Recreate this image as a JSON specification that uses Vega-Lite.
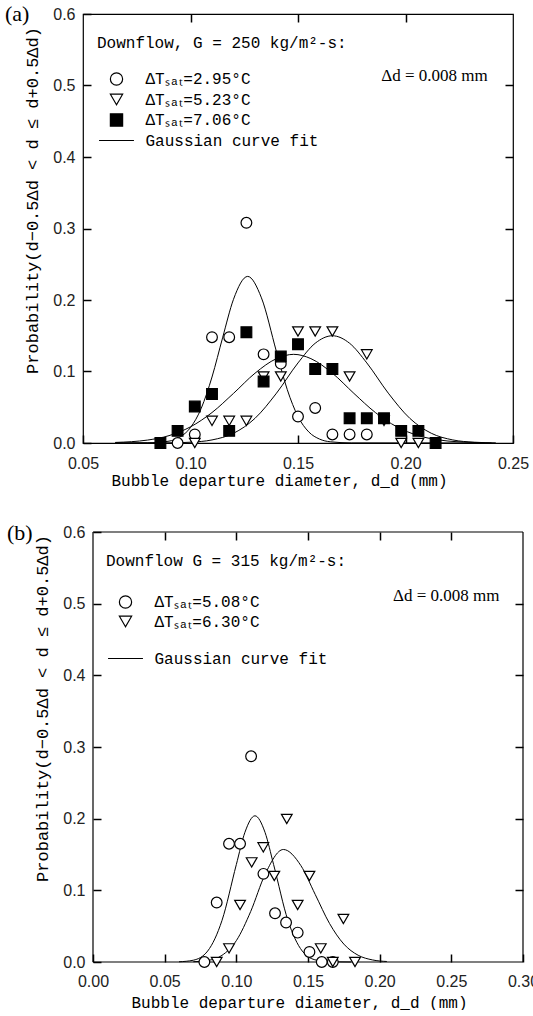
{
  "$schema": "https://vega.github.io/schema/vega-lite/v6.json",
  "background": "white",
  "padding": {"left": 4, "top": 2, "right": 0, "bottom": 0},
  "spacing": 25,
  "config": {
    "view": {"stroke": "black", "strokeWidth": 1.2},
    "axis": {
      "domain": false,
      "grid": false,
      "ticks": true,
      "tickColor": "black",
      "tickSize": 8,
      "tickWidth": 1.5,
      "offset": -8,
      "labelFont": "Liberation Sans",
      "labelFontSize": 16,
      "labelColor": "#222222",
      "labelPadding": 8,
      "labelFlush": false,
      "labelOverlap": false,
      "titleFont": "Liberation Mono",
      "titleFontSize": 16,
      "titleFontWeight": "normal",
      "titleColor": "black"
    },
    "legend": {
      "orient": "none",
      "titleFont": "Liberation Mono",
      "titleFontSize": 16,
      "titleFontWeight": "normal",
      "titleColor": "black",
      "titleLimit": 400,
      "labelFont": "Liberation Mono",
      "labelFontSize": 16,
      "labelColor": "black",
      "labelLimit": 300,
      "symbolSize": 150,
      "symbolStrokeWidth": 1.2,
      "labelOffset": 21,
      "symbolOffset": 11.5,
      "padding": 0
    },
    "title": {"font": "Liberation Serif", "fontSize": 22, "fontWeight": "normal", "color": "black", "anchor": "start", "frame": "group"}
  },
  "resolve": {"scale": {"x": "independent", "y": "independent", "shape": "independent", "fill": "independent", "stroke": "independent"}, "legend": {"shape": "independent", "fill": "independent", "stroke": "independent"}},
  "vconcat": [
    {
      "title": {"text": "(a)", "dx": -78, "offset": -20},
      "width": 430,
      "height": 429,
      "layer": [
        {
          "data": {"values": [
            {"d": 0.065, "p": 0, "c": "a1"}, {"d": 0.080, "p": 0.0002, "c": "a1"}, {"d": 0.090, "p": 0.0026, "c": "a1"}, {"d": 0.095, "p": 0.0081, "c": "a1"}, {"d": 0.100, "p": 0.0216, "c": "a1"}, {"d": 0.105, "p": 0.0486, "c": "a1"}, {"d": 0.110, "p": 0.0923, "c": "a1"}, {"d": 0.115, "p": 0.148, "c": "a1"}, {"d": 0.120, "p": 0.201, "c": "a1"}, {"d": 0.1266, "p": 0.233, "c": "a1"}, {"d": 0.133, "p": 0.203, "c": "a1"}, {"d": 0.140, "p": 0.1275, "c": "a1"}, {"d": 0.145, "p": 0.0747, "c": "a1"}, {"d": 0.150, "p": 0.037, "c": "a1"}, {"d": 0.155, "p": 0.0155, "c": "a1"}, {"d": 0.160, "p": 0.0055, "c": "a1"}, {"d": 0.165, "p": 0.0017, "c": "a1"}, {"d": 0.175, "p": 0.0001, "c": "a1"}, {"d": 0.235, "p": 0, "c": "a1"},
            {"d": 0.065, "p": 0, "c": "a2"}, {"d": 0.090, "p": 0.0002, "c": "a2"}, {"d": 0.100, "p": 0.0011, "c": "a2"}, {"d": 0.110, "p": 0.0043, "c": "a2"}, {"d": 0.120, "p": 0.0136, "c": "a2"}, {"d": 0.130, "p": 0.0345, "c": "a2"}, {"d": 0.140, "p": 0.0697, "c": "a2"}, {"d": 0.150, "p": 0.112, "c": "a2"}, {"d": 0.158, "p": 0.1395, "c": "a2"}, {"d": 0.166, "p": 0.150, "c": "a2"}, {"d": 0.174, "p": 0.1395, "c": "a2"}, {"d": 0.182, "p": 0.112, "c": "a2"}, {"d": 0.192, "p": 0.0697, "c": "a2"}, {"d": 0.202, "p": 0.0345, "c": "a2"}, {"d": 0.212, "p": 0.0136, "c": "a2"}, {"d": 0.222, "p": 0.0043, "c": "a2"}, {"d": 0.232, "p": 0.0011, "c": "a2"}, {"d": 0.242, "p": 0.0002, "c": "a2"},
            {"d": 0.065, "p": 0.0008, "c": "a3"}, {"d": 0.080, "p": 0.0041, "c": "a3"}, {"d": 0.090, "p": 0.0103, "c": "a3"}, {"d": 0.100, "p": 0.0226, "c": "a3"}, {"d": 0.110, "p": 0.0426, "c": "a3"}, {"d": 0.120, "p": 0.0694, "c": "a3"}, {"d": 0.130, "p": 0.0976, "c": "a3"}, {"d": 0.140, "p": 0.118, "c": "a3"}, {"d": 0.148, "p": 0.124, "c": "a3"}, {"d": 0.156, "p": 0.118, "c": "a3"}, {"d": 0.166, "p": 0.0976, "c": "a3"}, {"d": 0.176, "p": 0.0694, "c": "a3"}, {"d": 0.186, "p": 0.0426, "c": "a3"}, {"d": 0.196, "p": 0.0226, "c": "a3"}, {"d": 0.206, "p": 0.0103, "c": "a3"}, {"d": 0.216, "p": 0.0041, "c": "a3"}, {"d": 0.231, "p": 0.0008, "c": "a3"}, {"d": 0.240, "p": 0, "c": "a3"}
          ]},
          "mark": {"type": "line", "color": "black", "strokeWidth": 1, "interpolate": "monotone"},
          "encoding": {
            "x": {"field": "d", "type": "quantitative", "scale": {"domain": [0.05, 0.25], "nice": false}, "axis": {"orient": "top", "labels": false, "title": null, "values": [0.10, 0.15, 0.20]}},
            "y": {"field": "p", "type": "quantitative", "scale": {"domain": [0, 0.6], "nice": false}, "axis": {"orient": "right", "labels": false, "title": null, "values": [0.1, 0.2, 0.3, 0.4, 0.5]}},
            "detail": {"field": "c"}
          }
        },
        {
          "data": {"values": [
            {"d": 0.094, "p": 0.0, "s": "ΔTₛₐₜ=2.95°C"}, {"d": 0.102, "p": 0.012, "s": "ΔTₛₐₜ=2.95°C"}, {"d": 0.110, "p": 0.148, "s": "ΔTₛₐₜ=2.95°C"}, {"d": 0.118, "p": 0.148, "s": "ΔTₛₐₜ=2.95°C"}, {"d": 0.126, "p": 0.308, "s": "ΔTₛₐₜ=2.95°C"}, {"d": 0.134, "p": 0.124, "s": "ΔTₛₐₜ=2.95°C"}, {"d": 0.142, "p": 0.111, "s": "ΔTₛₐₜ=2.95°C"}, {"d": 0.150, "p": 0.037, "s": "ΔTₛₐₜ=2.95°C"}, {"d": 0.158, "p": 0.049, "s": "ΔTₛₐₜ=2.95°C"}, {"d": 0.166, "p": 0.012, "s": "ΔTₛₐₜ=2.95°C"}, {"d": 0.174, "p": 0.012, "s": "ΔTₛₐₜ=2.95°C"}, {"d": 0.182, "p": 0.012, "s": "ΔTₛₐₜ=2.95°C"},
            {"d": 0.102, "p": 0.0, "s": "ΔTₛₐₜ=5.23°C"}, {"d": 0.110, "p": 0.031, "s": "ΔTₛₐₜ=5.23°C"}, {"d": 0.118, "p": 0.031, "s": "ΔTₛₐₜ=5.23°C"}, {"d": 0.126, "p": 0.031, "s": "ΔTₛₐₜ=5.23°C"}, {"d": 0.134, "p": 0.093, "s": "ΔTₛₐₜ=5.23°C"}, {"d": 0.142, "p": 0.093, "s": "ΔTₛₐₜ=5.23°C"}, {"d": 0.150, "p": 0.156, "s": "ΔTₛₐₜ=5.23°C"}, {"d": 0.158, "p": 0.156, "s": "ΔTₛₐₜ=5.23°C"}, {"d": 0.166, "p": 0.156, "s": "ΔTₛₐₜ=5.23°C"}, {"d": 0.174, "p": 0.093, "s": "ΔTₛₐₜ=5.23°C"}, {"d": 0.182, "p": 0.124, "s": "ΔTₛₐₜ=5.23°C"}, {"d": 0.190, "p": 0.031, "s": "ΔTₛₐₜ=5.23°C"}, {"d": 0.198, "p": 0.0, "s": "ΔTₛₐₜ=5.23°C"}, {"d": 0.206, "p": 0.0, "s": "ΔTₛₐₜ=5.23°C"},
            {"d": 0.086, "p": 0.0, "s": "ΔTₛₐₜ=7.06°C"}, {"d": 0.094, "p": 0.017, "s": "ΔTₛₐₜ=7.06°C"}, {"d": 0.102, "p": 0.051, "s": "ΔTₛₐₜ=7.06°C"}, {"d": 0.110, "p": 0.0685, "s": "ΔTₛₐₜ=7.06°C"}, {"d": 0.118, "p": 0.017, "s": "ΔTₛₐₜ=7.06°C"}, {"d": 0.126, "p": 0.155, "s": "ΔTₛₐₜ=7.06°C"}, {"d": 0.134, "p": 0.086, "s": "ΔTₛₐₜ=7.06°C"}, {"d": 0.142, "p": 0.121, "s": "ΔTₛₐₜ=7.06°C"}, {"d": 0.150, "p": 0.138, "s": "ΔTₛₐₜ=7.06°C"}, {"d": 0.158, "p": 0.1035, "s": "ΔTₛₐₜ=7.06°C"}, {"d": 0.166, "p": 0.1035, "s": "ΔTₛₐₜ=7.06°C"}, {"d": 0.174, "p": 0.0345, "s": "ΔTₛₐₜ=7.06°C"}, {"d": 0.182, "p": 0.0345, "s": "ΔTₛₐₜ=7.06°C"}, {"d": 0.190, "p": 0.0345, "s": "ΔTₛₐₜ=7.06°C"}, {"d": 0.198, "p": 0.017, "s": "ΔTₛₐₜ=7.06°C"}, {"d": 0.206, "p": 0.017, "s": "ΔTₛₐₜ=7.06°C"}, {"d": 0.214, "p": 0.0, "s": "ΔTₛₐₜ=7.06°C"}
          ]},
          "mark": {"type": "point", "opacity": 1, "size": 115, "strokeWidth": 1.2},
          "encoding": {
            "x": {"field": "d", "type": "quantitative", "scale": {"domain": [0.05, 0.25], "nice": false}, "axis": {"orient": "bottom", "values": [0.05, 0.10, 0.15, 0.20, 0.25], "format": ".2f", "title": "Bubble departure diameter, d_d (mm)", "labelPadding": 12, "titlePadding": 1, "titleX": 196}},
            "y": {"field": "p", "type": "quantitative", "scale": {"domain": [0, 0.6], "nice": false}, "axis": {"orient": "left", "values": [0, 0.1, 0.2, 0.3, 0.4, 0.5, 0.6], "format": ".1f", "title": "Probability(d−0.5Δd  <  d  ≤  d+0.5Δd)", "titleX": -50, "titleY": 186, "titleFontSize": 17}},
            "shape": {"field": "s", "type": "nominal", "scale": {"domain": ["ΔTₛₐₜ=2.95°C", "ΔTₛₐₜ=5.23°C", "ΔTₛₐₜ=7.06°C", "Gaussian curve fit"], "range": ["circle", "triangle-down", "square", "M-2.85,0H2.85"]}, "legend": {"title": "Downflow, G = 250 kg/m²-s:", "legendX": 14, "legendY": 21, "titlePadding": 20, "rowPadding": 3.5}},
            "fill": {"field": "s", "type": "nominal", "scale": {"domain": ["ΔTₛₐₜ=2.95°C", "ΔTₛₐₜ=5.23°C", "ΔTₛₐₜ=7.06°C", "Gaussian curve fit"], "range": ["white", "white", "black", "transparent"]}, "legend": {"title": "Downflow, G = 250 kg/m²-s:", "legendX": 14, "legendY": 21, "titlePadding": 20, "rowPadding": 3.5}},
            "stroke": {"field": "s", "type": "nominal", "scale": {"domain": ["ΔTₛₐₜ=2.95°C", "ΔTₛₐₜ=5.23°C", "ΔTₛₐₜ=7.06°C", "Gaussian curve fit"], "range": ["black", "black", "black", "black"]}, "legend": {"title": "Downflow, G = 250 kg/m²-s:", "legendX": 14, "legendY": 21, "titlePadding": 20, "rowPadding": 3.5}}
          }
        },
        {
          "data": {"values": [{"d": 0.2135, "p": 0.513, "t": "Δd = 0.008 mm"}]},
          "mark": {"type": "text", "font": "Liberation Serif", "fontSize": 17, "color": "black", "align": "center", "baseline": "middle"},
          "encoding": {
            "x": {"field": "d", "type": "quantitative", "scale": {"domain": [0.05, 0.25], "nice": false}, "axis": null},
            "y": {"field": "p", "type": "quantitative", "scale": {"domain": [0, 0.6], "nice": false}, "axis": null},
            "text": {"field": "t"}
          }
        }
      ],
      "resolve": {"axis": {"x": "independent", "y": "independent"}}
    },
    {
      "title": {"text": "(b)", "dx": -76, "offset": -31},
      "width": 440,
      "height": 430,
      "view": {"stroke": null},
      "layer": [
        {
          "data": {"values": [
            {"x": 0, "x2": 0, "y": 0, "y2": 0.6},
            {"x": 0, "x2": 0.3, "y": 0.6, "y2": 0.6},
            {"x": 0, "x2": 0.3, "y": 0, "y2": 0},
            {"x": 0.3, "x2": 0.3, "y": 0, "y2": 0.6}
          ]},
          "mark": {"type": "rule", "color": "black", "strokeWidth": 1.2},
          "encoding": {
            "x": {"field": "x", "type": "quantitative", "scale": {"domain": [-0.006977, 0.3], "nice": false}, "axis": null},
            "x2": {"field": "x2"},
            "y": {"field": "y", "type": "quantitative", "scale": {"domain": [0, 0.6], "nice": false}, "axis": null},
            "y2": {"field": "y2"}
          }
        },
        {
          "data": {"values": [
            {"d": 0.060, "p": 0.0003, "c": "b1"}, {"d": 0.070, "p": 0.0025, "c": "b1"}, {"d": 0.080, "p": 0.0153, "c": "b1"}, {"d": 0.090, "p": 0.058, "c": "b1"}, {"d": 0.100, "p": 0.136, "c": "b1"}, {"d": 0.106, "p": 0.181, "c": "b1"}, {"d": 0.113, "p": 0.204, "c": "b1"}, {"d": 0.120, "p": 0.181, "c": "b1"}, {"d": 0.126, "p": 0.136, "c": "b1"}, {"d": 0.136, "p": 0.058, "c": "b1"}, {"d": 0.146, "p": 0.0153, "c": "b1"}, {"d": 0.156, "p": 0.0025, "c": "b1"}, {"d": 0.166, "p": 0.0003, "c": "b1"}, {"d": 0.180, "p": 0, "c": "b1"},
            {"d": 0.070, "p": 0.0004, "c": "b2"}, {"d": 0.080, "p": 0.0021, "c": "b2"}, {"d": 0.090, "p": 0.0093, "c": "b2"}, {"d": 0.100, "p": 0.0298, "c": "b2"}, {"d": 0.110, "p": 0.0704, "c": "b2"}, {"d": 0.120, "p": 0.122, "c": "b2"}, {"d": 0.1328, "p": 0.157, "c": "b2"}, {"d": 0.145, "p": 0.1346, "c": "b2"}, {"d": 0.155, "p": 0.0944, "c": "b2"}, {"d": 0.165, "p": 0.0538, "c": "b2"}, {"d": 0.175, "p": 0.025, "c": "b2"}, {"d": 0.185, "p": 0.0094, "c": "b2"}, {"d": 0.195, "p": 0.0029, "c": "b2"}, {"d": 0.205, "p": 0.0007, "c": "b2"}
          ]},
          "mark": {"type": "line", "color": "black", "strokeWidth": 1, "interpolate": "monotone"},
          "encoding": {
            "x": {"field": "d", "type": "quantitative", "scale": {"domain": [-0.006977, 0.3], "nice": false}, "axis": {"orient": "top", "labels": false, "title": null, "values": [0.05, 0.10, 0.15, 0.20, 0.25]}},
            "y": {"field": "p", "type": "quantitative", "scale": {"domain": [0, 0.6], "nice": false}, "axis": {"orient": "right", "labels": false, "title": null, "values": [0.1, 0.2, 0.3, 0.4, 0.5]}},
            "detail": {"field": "c"}
          }
        },
        {
          "data": {"values": [
            {"d": 0.0777, "p": 0.0, "s": "ΔTₛₐₜ=5.08°C"}, {"d": 0.0863, "p": 0.083, "s": "ΔTₛₐₜ=5.08°C"}, {"d": 0.0949, "p": 0.165, "s": "ΔTₛₐₜ=5.08°C"}, {"d": 0.1026, "p": 0.165, "s": "ΔTₛₐₜ=5.08°C"}, {"d": 0.1103, "p": 0.287, "s": "ΔTₛₐₜ=5.08°C"}, {"d": 0.1189, "p": 0.123, "s": "ΔTₛₐₜ=5.08°C"}, {"d": 0.127, "p": 0.068, "s": "ΔTₛₐₜ=5.08°C"}, {"d": 0.1347, "p": 0.055, "s": "ΔTₛₐₜ=5.08°C"}, {"d": 0.1428, "p": 0.041, "s": "ΔTₛₐₜ=5.08°C"}, {"d": 0.151, "p": 0.014, "s": "ΔTₛₐₜ=5.08°C"}, {"d": 0.1596, "p": 0.0, "s": "ΔTₛₐₜ=5.08°C"}, {"d": 0.1673, "p": 0.0, "s": "ΔTₛₐₜ=5.08°C"},
            {"d": 0.0863, "p": 0.0, "s": "ΔTₛₐₜ=6.30°C"}, {"d": 0.0949, "p": 0.019, "s": "ΔTₛₐₜ=6.30°C"}, {"d": 0.1026, "p": 0.0795, "s": "ΔTₛₐₜ=6.30°C"}, {"d": 0.1107, "p": 0.139, "s": "ΔTₛₐₜ=6.30°C"}, {"d": 0.1188, "p": 0.160, "s": "ΔTₛₐₜ=6.30°C"}, {"d": 0.1265, "p": 0.120, "s": "ΔTₛₐₜ=6.30°C"}, {"d": 0.1352, "p": 0.1995, "s": "ΔTₛₐₜ=6.30°C"}, {"d": 0.1428, "p": 0.0795, "s": "ΔTₛₐₜ=6.30°C"}, {"d": 0.151, "p": 0.120, "s": "ΔTₛₐₜ=6.30°C"}, {"d": 0.1589, "p": 0.019, "s": "ΔTₛₐₜ=6.30°C"}, {"d": 0.1673, "p": 0.0, "s": "ΔTₛₐₜ=6.30°C"}, {"d": 0.1747, "p": 0.06, "s": "ΔTₛₐₜ=6.30°C"}, {"d": 0.1828, "p": 0.0, "s": "ΔTₛₐₜ=6.30°C"}
          ]},
          "mark": {"type": "point", "opacity": 1, "size": 115, "strokeWidth": 1.2},
          "encoding": {
            "x": {"field": "d", "type": "quantitative", "scale": {"domain": [-0.006977, 0.3], "nice": false}, "axis": {"orient": "bottom", "values": [0, 0.05, 0.10, 0.15, 0.20, 0.25, 0.30], "format": ".2f", "title": "Bubble departure diameter, d_d (mm)", "labelPadding": 11, "titlePadding": 5, "titleX": 216}},
            "y": {"field": "p", "type": "quantitative", "scale": {"domain": [0, 0.6], "nice": false}, "axis": {"orient": "left", "offset": -18, "values": [0, 0.1, 0.2, 0.3, 0.4, 0.5, 0.6], "format": ".1f", "title": "Probability(d−0.5Δd  <  d  ≤  d+0.5Δd)", "titleX": -50, "titleY": 176, "titleFontSize": 17}},
            "shape": {"field": "s", "type": "nominal", "scale": {"domain": ["ΔTₛₐₜ=5.08°C", "ΔTₛₐₜ=6.30°C", " ", "Gaussian curve fit"], "range": ["circle", "triangle-down", "M0,0", "M-2.85,0H2.85"]}, "legend": {"title": "Downflow G = 315 kg/m²-s:", "legendX": 23, "legendY": 21, "titlePadding": 25, "rowPadding": 2.5}},
            "fill": {"field": "s", "type": "nominal", "scale": {"domain": ["ΔTₛₐₜ=5.08°C", "ΔTₛₐₜ=6.30°C", " ", "Gaussian curve fit"], "range": ["white", "white", "transparent", "transparent"]}, "legend": {"title": "Downflow G = 315 kg/m²-s:", "legendX": 23, "legendY": 21, "titlePadding": 25, "rowPadding": 2.5}},
            "stroke": {"field": "s", "type": "nominal", "scale": {"domain": ["ΔTₛₐₜ=5.08°C", "ΔTₛₐₜ=6.30°C", " ", "Gaussian curve fit"], "range": ["black", "black", "transparent", "black"]}, "legend": {"title": "Downflow G = 315 kg/m²-s:", "legendX": 23, "legendY": 21, "titlePadding": 25, "rowPadding": 2.5}}
          }
        },
        {
          "data": {"values": [{"d": 0.2465, "p": 0.511, "t": "Δd = 0.008 mm"}]},
          "mark": {"type": "text", "font": "Liberation Serif", "fontSize": 17, "color": "black", "align": "center", "baseline": "middle"},
          "encoding": {
            "x": {"field": "d", "type": "quantitative", "scale": {"domain": [-0.006977, 0.3], "nice": false}, "axis": null},
            "y": {"field": "p", "type": "quantitative", "scale": {"domain": [0, 0.6], "nice": false}, "axis": null},
            "text": {"field": "t"}
          }
        }
      ],
      "resolve": {"axis": {"x": "independent", "y": "independent"}}
    }
  ]
}
